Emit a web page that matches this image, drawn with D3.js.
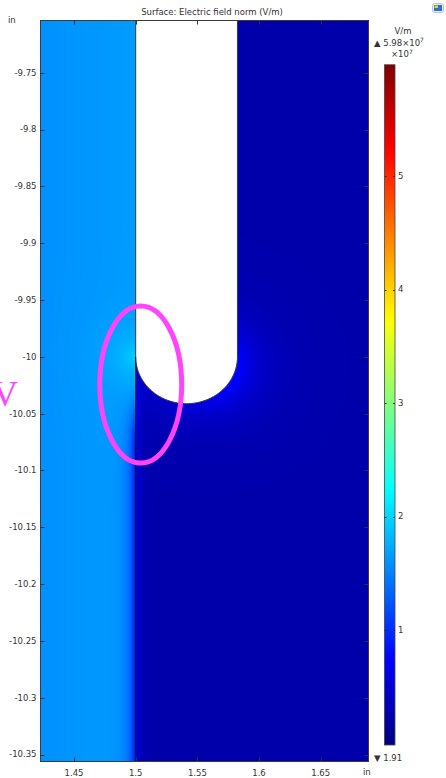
<!DOCTYPE html>
<html>
<head>
<meta charset="utf-8">
<script src="https://cdn.jsdelivr.net/npm/d3@7"></script>
<style>
  html, body { margin: 0; padding: 0; background: #fff; }
  svg { display: block; font-family: "DejaVu Sans", sans-serif; }
</style>
</head>
<body>
<svg id="chart" width="446" height="778"></svg>
<script>
// ---- axes (inches) ----
const xDomain = [1.42284, 1.68875];
const yDomain = [-9.70406, -10.35616];
const xTicks = [1.45, 1.5, 1.55, 1.6, 1.65];
const yTicks = [-9.75, -9.8, -9.85, -9.9, -9.95, -10, -10.05, -10.1, -10.15, -10.2, -10.25, -10.3, -10.35];

// ---- colour table (V/m) ----
const fieldExtent = [1.91, 5.98e7];
const colorTicks = [1e7, 2e7, 3e7, 4e7, 5e7];
const colorStops = [0, 0.125, 0.375, 0.625, 0.875, 1];
const colorValues = ["#000080", "#0000ff", "#00ffff", "#ffff00", "#ff0000", "#800000"];

// ---- geometry: slot with a rounded end [left x, right x, y where the round end starts] ----
const slotEdges = [1.5, 1.5825, -10];

// ---- field levels (V/m) and decay lengths (in) ----
const leftLevels = [1.6e7, 0.06e7];          // bulk, rise toward the boundary
const cornerGlow = [0.32e7, 0.016];          // amplitude, decay length
const boundaryDip = [0.85e7, 0.005];         // amplitude, decay length
const rightLevels = [0.25e7];                // bulk
const edgeBump = [0.4e7, 0.003];             // amplitude, decay length
const arcGlow = [0.58e7, 0.019, -0.45, 1.0, 0.3]; // amplitude, decay, peak angle, angular width, floor

// ---- annotation (inches) ----
const markCenter = [1.5041, -10.0244];
const markRadii = [0.0332, 0.0691];

const svg = d3.select("#chart");
const plot = { left: 40.5, right: 368.5, top: 20.5, bottom: 761.5 };

const x = d3.scaleLinear().domain(xDomain).range([plot.left, plot.right]);
const y = d3.scaleLinear().domain(yDomain).range([plot.top, plot.bottom]);
const color = d3.scaleLinear()
  .domain(colorStops.map(t => fieldExtent[0] + t * (fieldExtent[1] - fieldExtent[0])))
  .range(colorValues)
  .interpolate(d3.interpolateRgb)
  .clamp(true);

const smooth = t => { t = Math.max(0, Math.min(1, t)); return t * t * (3 - 2 * t); };

function fieldAt(X, Y) {
  const [xl, xr, yj] = slotEdges;
  const r = (xr - xl) / 2, cx = xl + r;
  if (X < xl) {
    let e = leftLevels[0] + leftLevels[1] * (X - xDomain[0]) / (xl - xDomain[0]);
    const dc = Math.hypot(X - xl, Y - yj);
    e += cornerGlow[0] * Math.exp(-dc / cornerGlow[1]);
    const below = smooth((yj - 0.02 - Y) / 0.06);
    e -= boundaryDip[0] * Math.exp(-(xl - X) / boundaryDip[1]) * below;
    return e;
  }
  let e = rightLevels[0];
  const below = smooth((yj - 0.01 - Y) / 0.03);
  e += edgeBump[0] * Math.exp(-(X - xl) / edgeBump[1]) * below;
  const dx = X - cx, dy = Y - yj;
  const d = Math.max(0, Math.hypot(dx, dy) - r);
  const th = Math.atan2(dy, dx);
  const w = arcGlow[4] + (1 - arcGlow[4]) * Math.exp(-Math.pow((th - arcGlow[2]) / arcGlow[3], 2));
  e += arcGlow[0] * w * Math.exp(-d / arcGlow[1]);
  return e;
}

// ---- field raster ----
const x0 = 40, y0 = 20, cw = 329, ch = 742;
const lutN = 1024;
const lut = d3.range(lutN).map(i => d3.rgb(color(fieldExtent[0] + i / (lutN - 1) * (fieldExtent[1] - fieldExtent[0]))));
const canvas = document.createElement("canvas");
canvas.width = cw; canvas.height = ch;
const ctx = canvas.getContext("2d");
const img = ctx.createImageData(cw, ch);
for (let j = 0; j < ch; j++) {
  const Y = y.invert(y0 + j + 0.5);
  for (let i = 0; i < cw; i++) {
    const X = x.invert(x0 + i + 0.5);
    const v = fieldAt(X, Y);
    let k = Math.round((v - fieldExtent[0]) / (fieldExtent[1] - fieldExtent[0]) * (lutN - 1));
    k = Math.max(0, Math.min(lutN - 1, k));
    const c = lut[k], p = (j * cw + i) * 4;
    img.data[p] = c.r; img.data[p + 1] = c.g; img.data[p + 2] = c.b; img.data[p + 3] = 255;
  }
}
ctx.putImageData(img, 0, 0);

svg.append("defs").append("clipPath").attr("id", "plotClip")
  .append("rect").attr("x", plot.left).attr("y", plot.top)
  .attr("width", plot.right - plot.left).attr("height", plot.bottom - plot.top);

svg.append("image")
  .attr("x", x0).attr("y", y0).attr("width", cw).attr("height", ch)
  .attr("preserveAspectRatio", "none")
  .attr("href", canvas.toDataURL());

// ---- slot (not part of the domain) ----
const [sl, sr, sj] = slotEdges;
const sr0 = (sr - sl) / 2, scx = sl + sr0;
const slotPts = [[sl, yDomain[0] + 0.01], [sl, sj]]
  .concat(d3.range(0, 181, 2).map(a => {
    const t = Math.PI + a * Math.PI / 180;
    return [scx + sr0 * Math.cos(t), sj + sr0 * Math.sin(t)];
  }))
  .concat([[sr, sj], [sr, yDomain[0] + 0.01]]);
const g = svg.append("g").attr("clip-path", "url(#plotClip)");
g.append("path")
  .attr("d", d3.line().x(d => x(d[0])).y(d => y(d[1]))(slotPts))
  .attr("fill", "#fff").attr("stroke", "#3a3a3a").attr("stroke-width", 1);
g.append("line")
  .attr("x1", x(sl)).attr("x2", x(sl)).attr("y1", y(sj)).attr("y2", y(yDomain[1]) + 2)
  .attr("stroke", "#111").attr("stroke-width", 1);

// ---- frame and ticks ----
const tickCol = "#333";
svg.append("rect")
  .attr("x", plot.left).attr("y", plot.top)
  .attr("width", plot.right - plot.left).attr("height", plot.bottom - plot.top)
  .attr("fill", "none").attr("stroke", "#3c3c3c").attr("stroke-width", 1);

const tk = svg.append("g").attr("stroke", tickCol).attr("stroke-width", 1);
yTicks.forEach(v => {
  const yy = Math.round(y(v)) + 0.5;
  tk.append("line").attr("x1", plot.left).attr("x2", plot.left + 4).attr("y1", yy).attr("y2", yy);
  tk.append("line").attr("x1", plot.right).attr("x2", plot.right - 4).attr("y1", yy).attr("y2", yy);
});
xTicks.forEach(v => {
  const xx = Math.round(x(v)) + 0.5;
  tk.append("line").attr("x1", xx).attr("x2", xx).attr("y1", plot.top).attr("y2", plot.top + 4);
  tk.append("line").attr("x1", xx).attr("x2", xx).attr("y1", plot.bottom).attr("y2", plot.bottom - 4);
});

const labelStyle = sel => sel.attr("font-size", 8.5).attr("fill", "#333");
const fmt = v => String(v);
svg.append("g").selectAll("text").data(yTicks).join("text")
  .call(labelStyle)
  .attr("x", plot.left - 4).attr("y", d => y(d)).attr("dy", "0.35em")
  .attr("text-anchor", "end").text(fmt);
svg.append("g").selectAll("text").data(xTicks).join("text")
  .call(labelStyle)
  .attr("x", d => x(d)).attr("y", plot.bottom + 14)
  .attr("text-anchor", "middle").text(fmt);

// unit labels
svg.append("text").call(labelStyle).attr("x", 8).attr("y", 23).text("in");
svg.append("text").call(labelStyle).attr("x", 363).attr("y", 775).text("in");

// title
svg.append("text").call(labelStyle)
  .attr("x", 212).attr("y", 15).attr("text-anchor", "middle")
  .text("Surface: Electric field norm (V/m)");

// ---- colour legend ----
const cb = { x: 384.5, w: 10.5 };
const cyScale = d3.scaleLinear().domain([0, 1e7]).range([743.5, 630]);
const grad = svg.select("defs").append("linearGradient").attr("id", "cbGrad")
  .attr("x1", 0).attr("y1", 1).attr("x2", 0).attr("y2", 0);
d3.range(0, 1.0001, 0.02).forEach(t => {
  grad.append("stop").attr("offset", t)
    .attr("stop-color", color(fieldExtent[0] + t * (fieldExtent[1] - fieldExtent[0])));
});
const cbTop = cyScale(fieldExtent[1]), cbBot = cyScale(fieldExtent[0]) + 1.5;
svg.append("rect")
  .attr("x", cb.x).attr("y", cbTop).attr("width", cb.w).attr("height", cbBot - cbTop)
  .attr("fill", "url(#cbGrad)").attr("stroke", "#444").attr("stroke-width", 0.8);
const ctk = svg.append("g").attr("stroke", "#333").attr("stroke-width", 1);
colorTicks.forEach(v => {
  const yy = Math.round(cyScale(v)) + 0.5;
  ctk.append("line").attr("x1", cb.x).attr("x2", cb.x + 2).attr("y1", yy).attr("y2", yy);
  ctk.append("line").attr("x1", cb.x + cb.w).attr("x2", cb.x + cb.w - 2).attr("y1", yy).attr("y2", yy);
});
svg.append("g").selectAll("text").data(colorTicks).join("text")
  .call(labelStyle)
  .attr("x", 398).attr("y", d => cyScale(d)).attr("dy", "0.35em")
  .text(d => d / 1e7);

svg.append("text").call(labelStyle).attr("x", 403).attr("y", 33.5).attr("text-anchor", "middle").text("V/m");
const maxLab = svg.append("text").call(labelStyle).attr("x", 374).attr("y", 46);
maxLab.append("tspan").text("\u25B2 5.98\u00D710");
maxLab.append("tspan").attr("font-size", 6).attr("dy", -4.5).text("7");
const expLab = svg.append("text").call(labelStyle).attr("x", 391).attr("y", 57);
expLab.append("tspan").text("\u00D710");
expLab.append("tspan").attr("font-size", 6).attr("dy", -3.5).text("7");
svg.append("text").call(labelStyle).attr("x", 374).attr("y", 761).text("\u25BC 1.91");

// small window icon
const icon = svg.append("g");
icon.append("rect").attr("x", 432.5).attr("y", 3.5).attr("width", 11).attr("height", 9).attr("rx", 2)
  .attr("fill", "#e8eef8").attr("stroke", "#b8c4d8").attr("stroke-width", 1);
icon.append("rect").attr("x", 434).attr("y", 5).attr("width", 8).attr("height", 6).attr("fill", "#2a6fd6");
icon.append("rect").attr("x", 434.5).attr("y", 5.5).attr("width", 3.5).attr("height", 2.5).attr("fill", "#f2d21b");

// ---- annotation ----
svg.append("ellipse")
  .attr("cx", x(markCenter[0])).attr("cy", y(markCenter[1]))
  .attr("rx", x(markCenter[0] + markRadii[0]) - x(markCenter[0]))
  .attr("ry", y(markCenter[1] - markRadii[1]) - y(markCenter[1]))
  .attr("fill", "none").attr("stroke", "#ff44ff").attr("stroke-width", 5);
svg.append("text")
  .attr("x", -8).attr("y", y(-10.0437))
  .attr("font-family", "'Liberation Serif', serif").attr("font-size", 36)
  .attr("fill", "#ff44ff").text("V");
</script>
</body>
</html>
